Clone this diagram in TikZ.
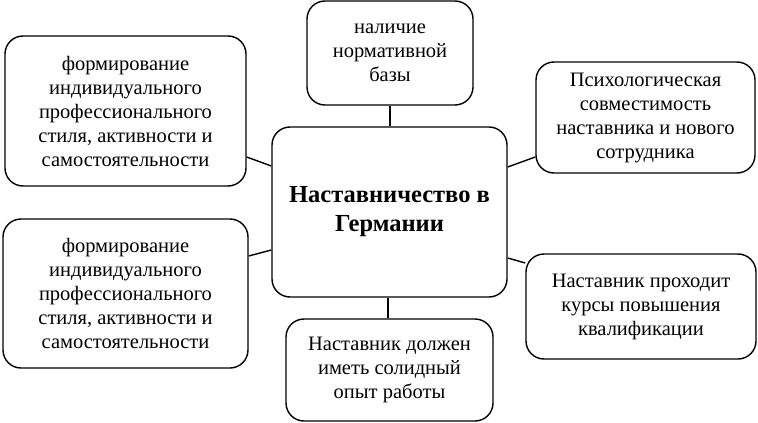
\documentclass[tikz,border=0pt]{standalone}
\usepackage{fontspec}
\setmainfont{Liberation Serif}
\begin{document}
\begin{tikzpicture}[x=1pt,y=-1pt,
  box/.style={draw,line width=1.4pt,rounded corners=18pt,align=center,inner sep=0pt,font=\fontsize{20.5}{24}\selectfont},
  conn/.style={line width=1.4pt}]
\useasboundingbox (0,0) rectangle (758,423);
\node[box,minimum width=235pt,minimum height=170pt,font=\fontsize{24.5}{29}\selectfont\bfseries] (c) at (389.5,212) {Наставничество в\\Германии};
\node[box,minimum width=166pt,minimum height=104pt] (t) at (390,53) {наличие\\нормативной\\базы};
\node[box,minimum width=241pt,minimum height=150pt] (tl) at (125.5,111) {формирование\\индивидуального\\профессионального\\стиля, активности и\\самостоятельности};
\node[box,minimum width=245pt,minimum height=149pt] (bl) at (125.5,293.5) {формирование\\индивидуального\\профессионального\\стиля, активности и\\самостоятельности};
\node[box,minimum width=219pt,minimum height=111pt] (tr) at (645.5,117.5) {Психологическая\\совместимость\\наставника и нового\\сотрудника};
\node[box,minimum width=230pt,minimum height=105pt] (br) at (641,306.5) {Наставник проходит\\курсы повышения\\квалификации};
\node[box,minimum width=207pt,minimum height=102pt] (b) at (389.5,370) {Наставник должен\\иметь солидный\\опыт работы};
\coordinate (t1) at (390,105); \coordinate (c1) at (390,127);
\coordinate (b1) at (388,297); \coordinate (b2) at (388,319);
\draw[conn] (t.south -| t1) -- (c.north -| c1);
\draw[conn] (c.south -| b1) -- (b.north -| b2);
\draw[conn] (tl.east |- 0,157) -- (c.west |- 0,166);
\draw[conn] (bl.east |- 0,256) -- (c.west |- 0,250);
\draw[conn] (c.east |- 0,167) -- (tr.west |- 0,157);
\draw[conn] (c.east |- 0,258) -- (br.west |- 0,263);
\end{tikzpicture}
\end{document}
